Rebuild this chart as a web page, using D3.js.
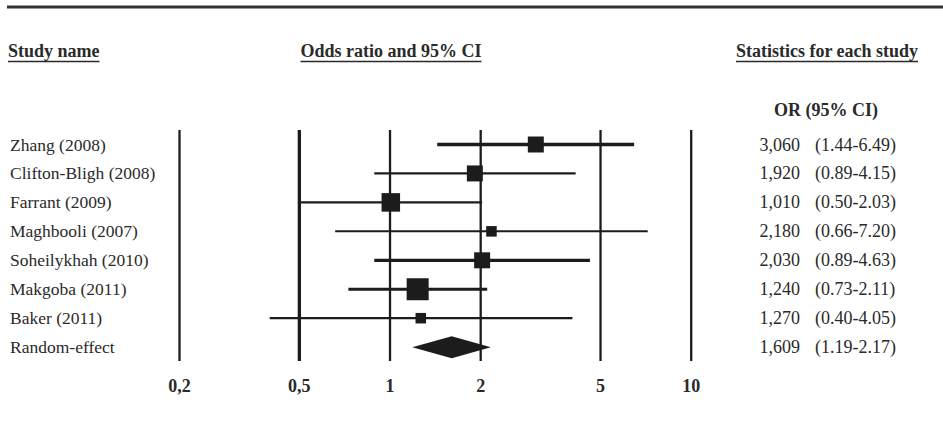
<!DOCTYPE html>
<html>
<head>
<meta charset="utf-8">
<script src="https://cdn.jsdelivr.net/npm/d3@7/dist/d3.min.js"></script>
<style>
  html, body { margin: 0; padding: 0; background: #fff; }
  svg { display: block; font-family: "Liberation Serif", "Times New Roman", serif; }
</style>
</head>
<body>
<svg id="chart" width="943" height="423"></svg>
<script>
// Individual studies
const studies  = ["Zhang (2008)", "Clifton-Bligh (2008)", "Farrant (2009)", "Maghbooli (2007)",
                  "Soheilykhah (2010)", "Makgoba (2011)", "Baker (2011)"];
const oddsRatio = [3.060, 1.920, 1.010, 2.180, 2.030, 1.240, 1.270];
const ciLower   = [1.44, 0.89, 0.50, 0.66, 0.89, 0.73, 0.40];
const ciUpper   = [6.49, 4.15, 2.03, 7.20, 4.63, 2.11, 4.05];
const weights   = [14.1, 14.1, 18.9, 6.1, 14.1, 26.7, 6.1];   // relative weight, %

// Pooled estimate
const pooledLabel = "Random-effect";
const pooledOR    = 1.609;
const pooledLower = 1.19;
const pooledUpper = 2.17;

// Axis
const tickValues = [0.2, 0.5, 1, 2, 5, 10];
const tickLabels = ["0,2", "0,5", "1", "2", "5", "10"];

// ---- layout & style ----
const ink = "#1c1c1c";
const textInk = "#2a2a2a";
const ciStroke = [3.4, 2.2, 2.2, 2.0, 3.2, 3.2, 2.2];
const rowY0 = 144.5, rowStep = 28.95;
const plotTop = 130, plotBottom = 361;

const svg = d3.select("#chart");

const x = d3.scaleLog().domain([0.2, 10]).range([179, 690.7]);
const y = i => rowY0 + i * rowStep;
const side = d3.scaleSqrt().domain([0, 26.7]).range([0, 22]);

// Top rule
svg.append("line")
  .attr("x1", 7).attr("x2", 943).attr("y1", 7).attr("y2", 7)
  .attr("stroke", "#333").attr("stroke-width", 3);

// Column headers, underlined
const headers = [
  { text: "Study name", x: 8, anchor: "start" },
  { text: "Odds ratio and 95% CI", x: 391, anchor: "middle" },
  { text: "Statistics for each study", x: 827, anchor: "middle" }
];
headers.forEach(h => {
  const t = svg.append("text")
    .attr("x", h.x).attr("y", 57)
    .attr("text-anchor", h.anchor)
    .attr("font-size", 18).attr("font-weight", "bold")
    .attr("fill", textInk)
    .text(h.text);
  const bb = t.node().getBBox();
  svg.append("line")
    .attr("x1", bb.x).attr("x2", bb.x + bb.width)
    .attr("y1", 61.5).attr("y2", 61.5)
    .attr("stroke", textInk).attr("stroke-width", 1.5);
});

svg.append("text")
  .attr("x", 826).attr("y", 116)
  .attr("text-anchor", "middle")
  .attr("font-size", 18).attr("font-weight", "bold")
  .attr("fill", textInk)
  .text("OR (95% CI)");

// Reference lines and tick labels from the log axis
const axis = d3.axisBottom(x)
  .tickValues(tickValues)
  .tickFormat((d, i) => tickLabels[i])
  .tickSizeInner(-(plotBottom - plotTop))
  .tickSizeOuter(0);

const gAxis = svg.append("g")
  .attr("transform", `translate(0,${plotBottom})`)
  .call(axis);
gAxis.select(".domain").remove();
gAxis.selectAll(".tick line")
  .attr("stroke", ink)
  .attr("stroke-width", d => d === 0.5 ? 3.3 : 2.3);
gAxis.selectAll(".tick text")
  .attr("y", 31).attr("dy", 0)
  .attr("fill", textInk)
  .attr("font-family", "Liberation Serif, serif")
  .attr("font-size", 18).attr("font-weight", "bold");

// Study rows
const rows = studies.map((name, i) => ({
  name, or: oddsRatio[i], lo: ciLower[i], hi: ciUpper[i], w: weights[i], i
}));

const gRows = svg.append("g");
gRows.selectAll("line.ci").data(rows).join("line")
  .attr("class", "ci")
  .attr("x1", d => x(d.lo)).attr("x2", d => x(d.hi))
  .attr("y1", d => y(d.i)).attr("y2", d => y(d.i))
  .attr("stroke", ink)
  .attr("stroke-width", d => ciStroke[d.i]);

gRows.selectAll("rect.pt").data(rows).join("rect")
  .attr("class", "pt")
  .attr("x", d => x(d.or) - side(d.w) / 2)
  .attr("y", d => y(d.i) - side(d.w) / 2)
  .attr("width", d => side(d.w))
  .attr("height", d => side(d.w))
  .attr("fill", ink);

// Pooled diamond
const py = y(studies.length);
const dh = 11;
svg.append("path")
  .attr("d", `M${x(pooledLower)},${py} L${x(pooledOR)},${py - dh} L${x(pooledUpper)},${py} L${x(pooledOR)},${py + dh} Z`)
  .attr("fill", ink);

// Labels and statistics
const allRows = rows.concat([{ name: pooledLabel, or: pooledOR, lo: pooledLower, hi: pooledUpper, i: studies.length }]);
const commaLocale = d3.formatLocale({ decimal: ",", thousands: ".", grouping: [3], currency: ["", ""] });
const fmtOR = commaLocale.format(".3f");
const fmtCI = d3.format(".2f");

svg.append("g").selectAll("text").data(allRows).join("text")
  .attr("x", 10).attr("y", d => y(d.i) + 6)
  .attr("font-size", 17.5).attr("fill", textInk)
  .text(d => d.name);

svg.append("g").selectAll("text").data(allRows).join("text")
  .attr("x", 800).attr("y", d => y(d.i) + 6)
  .attr("text-anchor", "end")
  .attr("font-size", 18).attr("fill", textInk)
  .text(d => fmtOR(d.or));

svg.append("g").selectAll("text").data(allRows).join("text")
  .attr("x", 815).attr("y", d => y(d.i) + 6)
  .attr("font-size", 18).attr("fill", textInk)
  .text(d => `(${fmtCI(d.lo)}-${fmtCI(d.hi)})`);
</script>
</body>
</html>
